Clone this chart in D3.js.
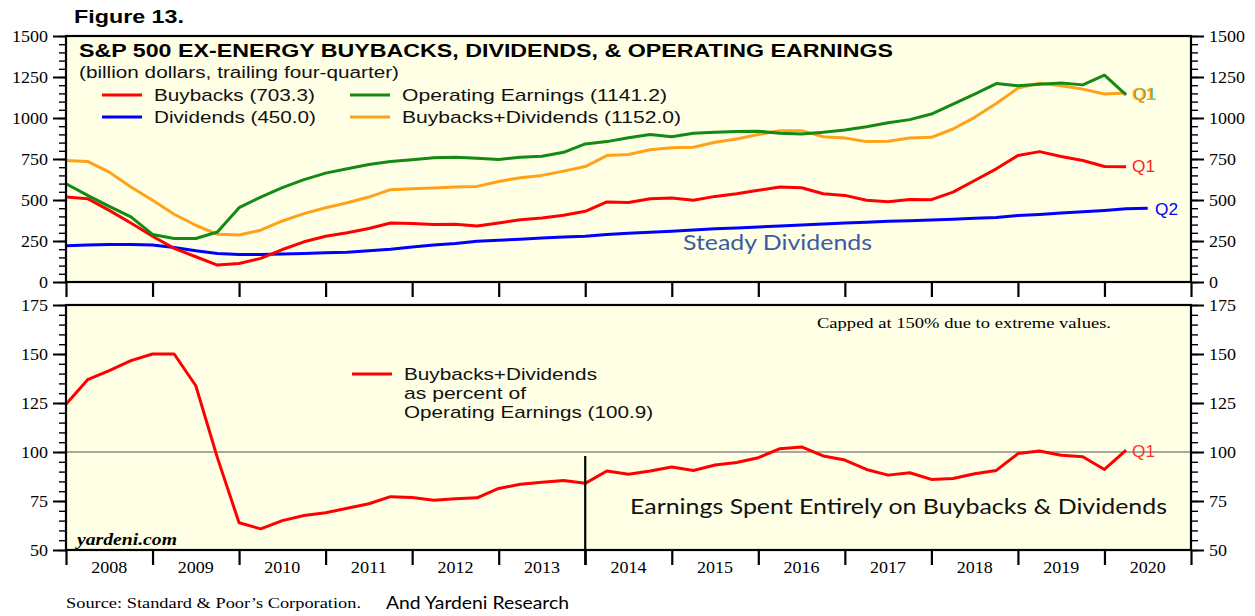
<!DOCTYPE html>
<html>
<head>
<meta charset="utf-8">
<script src="https://cdn.jsdelivr.net/npm/d3@7"></script>
<style>
  body { margin: 0; background: #fff; }
  svg { display: block; }
</style>
</head>
<body>
<div id="chart"></div>
<script>
// quarterly points, first one plotted at 2008.0 (Q4 2007), last Q1 2020
var buybacks = [518,508,437,360,279,205,154,103,113,144, 198,245,279,300,326,360,356,350,352,342,
  360,380,390,407,431,488,485,508,512,498, 522,538,559,579,575,538,528,498,490,503,
  502,548,619,690,771,795,765,741,704,703.3];
var earnings = [599,528,461,397,290,265,265,305,453,518, 575,624,664,690,716,735,745,757,761,755,
  747,761,767,791,842,856,880,899,886,907, 913,917,919,907,903,913,927,947,971,990,
  1024,1085,1146,1210,1196,1206,1214,1202,1261,1141.2];
var buyDiv = [741,735,670,579,498,413,346,291,287,316, 372,417,453,483,518,563,569,573,579,583,
  613,636,650,676,704,771,778,806,818,822, 852,872,899,923,923,886,878,856,858,878,
  882,933,1004,1089,1182,1212,1196,1176,1146,1152.0];
// dividends run one quarter longer (Q2 2020)
var dividends = [221,225,229,229,225,211,190,174,168,168, 170,174,178,182,190,200,214,225,235,249,
  255,261,269,275,279,290,298,304,310,317, 324,330,336,342,348,354,360,365,370,374,
  378,383,388,394,405,412,420,428,436,446, 450.0];
// buybacks+dividends as % of operating earnings, capped at 150
var payoutPct = [124.4,136.9,141.5,146.6,150,150,133.8,97,63.9,60.8, 65.0,67.6,69.0,71.3,73.6,77.2,76.8,75.4,76.1,76.6,
  81.4,83.5,84.6,85.5,84.0,90.3,88.6,90.3,92.3,90.6, 93.4,94.6,97.1,101.7,102.6,98.0,95.9,91.1,88.2,89.4,
  86.0,86.5,88.9,90.6,99.2,100.5,98.3,97.6,91.1,100.9];

var years = d3.range(2008, 2021);
var topTicks = d3.range(0, 1501, 250);
var topMinor = d3.range(0, 1501, 50);
var botTicks = d3.range(50, 176, 25);
var botMinor = d3.range(50, 176, 5);

var W = 1255, H = 616;
var L = 66, R = 1191;
var sans = "'Liberation Sans', Arial, sans-serif";
var serif = "'Liberation Serif', 'Times New Roman', serif";
var calibri = "Lato, 'Open Sans', sans-serif";
var cream = '#ffffe6';

var svg = d3.select('#chart').append('svg').attr('width', W).attr('height', H);

var x = d3.scaleLinear().domain([2008, 2021]).range([L, R]);
var yTop = d3.scaleLinear().domain([0, 1500]).range([282, 36]);
var yBot = d3.scaleLinear().domain([50, 175]).range([550, 305]);

function qx(d, i) { return x(2008 + i / 4); }

function txt(s, px, py, o) {
  o = o || {};
  var t = svg.append('text').attr('x', px).attr('y', py).text(s)
    .attr('font-family', o.font || sans).attr('font-size', o.size || 16)
    .attr('fill', o.color || '#000');
  if (o.weight) t.attr('font-weight', o.weight);
  if (o.style) t.attr('font-style', o.style);
  if (o.anchor) t.attr('text-anchor', o.anchor);
  if (o.len) t.attr('textLength', o.len).attr('lengthAdjust', 'spacingAndGlyphs');
  return t;
}

// panel backgrounds
[yTop, yBot].forEach(function (s) {
  var r = s.range();
  svg.append('rect').attr('x', L).attr('y', r[1]).attr('width', R - L).attr('height', r[0] - r[1])
    .attr('fill', cream);
});

// 100% reference line
svg.append('line').attr('x1', L).attr('x2', R).attr('y1', yBot(100)).attr('y2', yBot(100))
  .attr('stroke', '#8a8a86').attr('stroke-width', 1.6);

function drawLine(data, ys, color) {
  var line = d3.line().x(qx).y(function (d) { return ys(d); });
  svg.append('path').datum(data).attr('d', line)
    .attr('fill', 'none').attr('stroke', color).attr('stroke-width', 3)
    .attr('stroke-linejoin', 'round');
}
drawLine(dividends, yTop, '#0000ff');
drawLine(buybacks, yTop, '#ff0000');
drawLine(buyDiv, yTop, '#ffa21a');
drawLine(earnings, yTop, '#138a13');
drawLine(payoutPct, yBot, '#ff0000');

// borders
[yTop, yBot].forEach(function (s) {
  var r = s.range();
  svg.append('rect').attr('x', L).attr('y', r[1]).attr('width', R - L).attr('height', r[0] - r[1])
    .attr('fill', 'none').attr('stroke', '#000').attr('stroke-width', 2.2);
});

// y axes, both sides
function yAxes(scale, major, minor) {
  [[d3.axisLeft, L], [d3.axisRight, R]].forEach(function (a) {
    svg.append('g').attr('transform', 'translate(' + a[1] + ',0)')
      .call(a[0](scale).tickValues(minor).tickSize(7).tickFormat(''))
      .call(function (g) { g.select('.domain').remove(); g.selectAll('line').attr('stroke-width', 1.4); });
    svg.append('g').attr('transform', 'translate(' + a[1] + ',0)')
      .call(a[0](scale).tickValues(major).tickSize(13).tickPadding(5).tickFormat(d3.format('d')))
      .call(function (g) {
        g.select('.domain').remove();
        g.selectAll('line').attr('stroke-width', 2);
        g.selectAll('text').attr('font-family', serif).attr('font-size', 16).attr('fill', '#000')
          .each(function (d) {
            d3.select(this).attr('textLength', String(d).length * 9).attr('lengthAdjust', 'spacingAndGlyphs');
          });
      });
  });
}
yAxes(yTop, topTicks, topMinor);
yAxes(yBot, botTicks, botMinor);

// year ticks under each panel
[282, 550].forEach(function (yy) {
  svg.append('g').attr('transform', 'translate(0,' + yy + ')')
    .call(d3.axisBottom(x).tickValues(d3.range(2008, 2022)).tickSize(15).tickFormat(''))
    .call(function (g) { g.select('.domain').remove(); g.selectAll('line').attr('stroke-width', 2.2); });
});
years.forEach(function (yr) {
  txt(yr, x(yr + 0.5), 573, { font: serif, size: 16, anchor: 'middle', len: 36 });
});

// divider at 2014
svg.append('line').attr('x1', x(2014)).attr('x2', x(2014)).attr('y1', 456).attr('y2', 565)
  .attr('stroke', '#000').attr('stroke-width', 2.2);

// titles
txt('Figure 13.', 74, 23, { size: 18, weight: 'bold', len: 110 });
txt('S&P 500 EX-ENERGY BUYBACKS, DIVIDENDS, & OPERATING EARNINGS', 79, 57, { size: 19, weight: 'bold', len: 814 });
txt('(billion dollars, trailing four-quarter)', 79, 78, { size: 16, len: 320, color: '#111' });

// top legend
var legend = [
  ['Buybacks (703.3)', '#ff0000', 102, 95, 161],
  ['Dividends (450.0)', '#0000ff', 102, 117, 162],
  ['Operating Earnings (1141.2)', '#138a13', 350, 95, 265],
  ['Buybacks+Dividends (1152.0)', '#ffa21a', 350, 117, 279]
];
legend.forEach(function (l) {
  svg.append('line').attr('x1', l[2]).attr('x2', l[2] + 40).attr('y1', l[3]).attr('y2', l[3])
    .attr('stroke', l[1]).attr('stroke-width', 3);
  txt(l[0], l[2] + 52, l[3] + 6, { size: 17, len: l[4], color: '#111' });
});

// end labels
txt('Q1', 1133, 100, { size: 16, color: '#138a13', len: 23 });
txt('Q1', 1132, 100, { size: 16, color: '#ffa21a', len: 23 });
txt('Q1', 1132, 172, { size: 16, color: '#ff2020', len: 23 });
txt('Q2', 1155, 215, { size: 16, color: '#0000ff', len: 23 });
txt('Q1', 1132, 457, { size: 16, color: '#ff3030', len: 23 });

txt('Steady Dividends', 683, 250, { font: calibri, size: 21, color: '#3a5ca6', len: 189 });

// bottom panel notes
txt('Capped at 150% due to extreme values.', 817, 328, { font: serif, size: 15, len: 294 });
svg.append('line').attr('x1', 352).attr('x2', 392).attr('y1', 374).attr('y2', 374)
  .attr('stroke', '#ff0000').attr('stroke-width', 3);
txt('Buybacks+Dividends', 404, 380, { size: 17, len: 193, color: '#111' });
txt('as percent of', 404, 399, { size: 17, len: 122, color: '#111' });
txt('Operating Earnings (100.9)', 404, 418, { size: 17, len: 249, color: '#111' });
txt('yardeni.com', 77, 545, { font: serif, size: 16, weight: 'bold', style: 'italic', len: 100 });
txt('Earnings Spent Entirely on Buybacks & Dividends', 630, 514, { font: calibri, size: 22, color: '#111', len: 537 });

// source
txt('Source: Standard & Poor\u2019s Corporation.', 66, 608, { font: serif, size: 15, len: 295 });
txt('And Yardeni Research', 386, 609, { font: calibri, size: 18, len: 183 });
</script>
</body>
</html>
